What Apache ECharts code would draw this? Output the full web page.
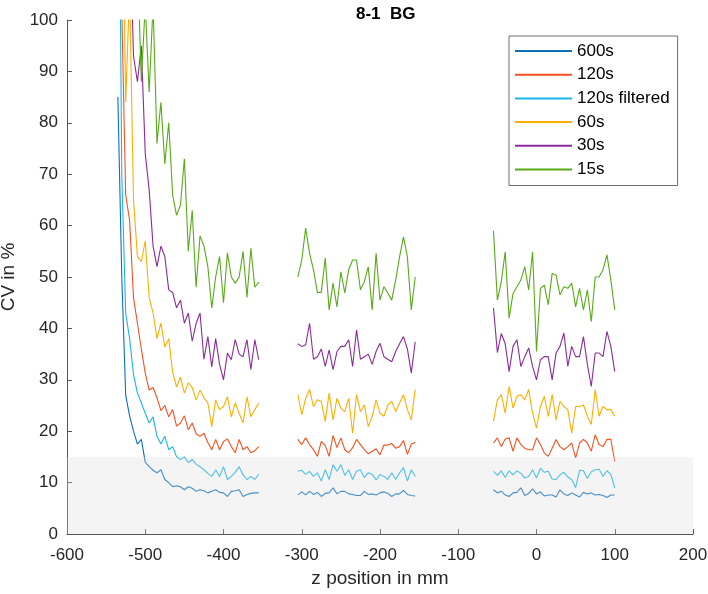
<!DOCTYPE html>
<html>
<head>
<meta charset="utf-8">
<script src="https://cdn.jsdelivr.net/npm/echarts@6/dist/echarts.min.js"></script>
<style>html,body{margin:0;padding:0;background:#fff}#c{width:708px;height:594px}</style>
</head>
<body>
<div id="c"></div>
<script>
// x positions (mm) of the three measured segments
var xA = [-535,-530,-525,-520,-515,-510,-505,-500,-495,-490,-485,-480,-475,-470,-465,-460,-455,-450,-445,-440,-435,-430,-425,-420,-415,-410,-405,-400,-395,-390,-385,-380,-375,-370,-365,-360,-355];
var xB = [-305,-300,-295,-290,-285,-280,-275,-270,-265,-260,-255,-250,-245,-240,-235,-230,-225,-220,-215,-210,-205,-200,-195,-190,-185,-180,-175,-170,-165,-160,-155];
var xC = [-55,-50,-45,-40,-35,-30,-25,-20,-15,-10,-5,0,5,10,15,20,25,30,35,40,45,50,55,60,65,70,75,80,85,90,95,100];

var seriesNames = ['600s','120s','120s filtered','60s','30s','15s'];
var seriesColors = ['#0b6fbd','#f5511e','#1ab4ee','#ffae00','#8b2a9b','#58aa18'];

// CV values (%)
var s600A = [85,50,27,23,20,17.5,18.4,14,13.1,12.4,11.9,12.5,10.6,10,9.2,9.4,9.2,8.6,9.2,8.9,8.3,8.6,8.4,8,8.3,8.6,8.1,8,7.3,8.3,8.4,8.6,7.3,7.7,7.9,8,8];
var s600B = [7.6,8.2,7.6,8.3,7.7,8.1,7.3,7.9,8,9,7.8,8.3,8.3,7.8,7.7,7.5,7.5,8.3,7.7,7.8,7.6,8,8.2,7.9,7.3,7.8,7.8,8.5,7.7,7.5,7.4];
var s600C = [8.6,8,8.3,7.6,7.3,8,8.1,9,7.5,7.9,8.8,7.8,8.2,7.4,7.6,7.6,7.2,8.6,7.8,7.5,8,7.6,7.2,8.1,7.8,8,7.6,7.7,7.5,7.1,7.6,7.6];

var s120A = [180,102,66,61,46,41,36,31.3,28,28.5,26.5,24,25,22.8,24.2,21,21.6,23,20.3,21.6,19.5,19,19.6,17.8,16.4,18.4,16.4,18,18.5,17,15.8,18.4,16.4,17,15.8,16.2,17];
var s120B = [18.4,17.4,18.7,17.4,16.4,15.1,18,17.2,15.1,19.2,16.8,18.7,16.4,15.8,16.8,18.4,17.4,16.4,15.6,16.1,16.6,15.4,17.3,17.3,17.6,16.7,17,18.2,15.5,17.5,17.8];
var s120C = [17.7,18.7,17,18.5,18.7,16.1,18.7,17.4,16.7,16.4,16.4,18.7,17.4,15.8,15.1,16.7,18.4,17,16.4,17,17.7,14.8,17.7,18.4,17.7,16.1,19.3,17.4,17,18.4,18.4,14.1];

var s120fA = [160,70,43,38,31,27.4,25.5,23.5,21.6,22.8,19,17.5,19,16.4,17,15,14.5,15,13.9,14.5,13.6,13.1,12.5,11.8,11.2,12.5,11.2,13.1,10.6,11.2,12,13.1,11.5,10.6,11.2,10.6,11.6];
var s120fB = [12.2,12.4,11.6,12.2,11.2,11.9,10.3,12.5,10.6,13.5,12.2,13.5,11.4,12.5,10.6,12.2,12.5,11,11.9,11.6,10.5,11.6,11.2,10.6,11.9,10.6,11.9,12.9,10.3,12.5,11.2];
var s120fC = [12.2,11.4,12.3,11,12.3,11.5,12.3,11.8,10.9,11.2,12.5,10.9,12.8,12,12.2,10.7,10.6,11.5,12,11.1,10.6,9,12.4,12.3,10.8,12.1,12.5,12.6,11.2,12.3,11.6,9];

var s60A = [200,140,84,106,65,54,53,57,46,43,38,41,36.4,38,31.5,28.6,30.5,27.4,29.4,28.5,26.1,28,26.5,25.5,20.9,26.1,24.2,24.8,26.7,22.8,25.5,23.5,21.6,26.7,22.8,24.2,25.5];
var s60B = [27.1,23.2,26.4,28.1,24.8,26.1,25.8,21.9,27.4,22.2,26.4,24.5,23.8,26.4,19.6,27.1,23.8,25.1,20.9,22.9,26.1,23.5,22.9,25.1,25.8,23.8,25.5,27.1,24.2,22.2,28.1];
var s60C = [21.9,26.1,27.1,23.5,28.7,24.5,26.8,27.1,26.1,28.1,23.5,20.6,24.8,26.8,22.9,27.1,22.2,25.8,24.8,24.2,19.6,24.8,24.8,25.1,22.9,21.3,28.1,22.9,24.8,24.2,24.2,22.9];

var s30A = [230,190,150,120,93,88,95,74,67,56,52,56,54,47.5,47,44,45.5,41,43,37.5,41,43,34,38.4,32.5,38,33,30,35.2,33.9,37.8,35,34.5,37.8,32,37.8,33.9];
var s30B = [37,36.5,36.8,41,34,34.5,36,32.6,35.8,32,35.5,36.5,36.5,37.8,32.6,39.7,34,34.5,35,33,35.5,37.1,34.5,34,33.5,35.5,37,38.4,36,31.3,37.4];
var s30C = [44,35.3,39,37,31.6,36.5,37.8,32.6,34.5,36.2,32.6,30,33.9,34.5,34.5,30,35.2,36.5,39.1,32.6,36.5,34.5,34.5,38.4,33,28.7,35.2,35.2,34.5,39.4,36.5,31.6];

var s15A = [250,220,190,160,130,112,88,103,86,103,76,84,72,80,66,62,64,73,55,63,48,58,56,52,44,50,54,45,54.7,50,48.8,50,55,46,55.6,48,49];
var s15B = [50,53.3,59.5,54.6,51.4,47,47,53.7,43.6,48.8,44.2,51,46.9,51.4,53.3,53.3,47.5,49.1,52,43.6,54.6,45.5,48.1,46.9,45.5,49.4,53.9,57.8,53.9,43.6,50];
var s15C = [59,45.5,49.1,54.9,42,46.8,48.1,49.4,52,47.5,54.9,35.5,47.8,48.4,44.6,50.7,50.4,46.5,48.1,47.8,48.8,44.2,47.8,43.6,47.5,41.3,50,50,51.4,54.3,49.4,43.6];

// shaded band (CV below 15 %)
var bandX = [-600, 200];
var bandY = [15, 15];

var xTicks = {min: -600, max: 200, interval: 100};
var yTicks = {min: 0, max: 100, interval: 10};

function build(a, b, c) {
  var out = [];
  var segs = [[xA, a], [xB, b], [xC, c]];
  segs.forEach(function (s, k) {
    if (k > 0) {
      var prev = segs[k - 1][0];
      out.push([(prev[prev.length - 1] + s[0][0]) / 2, null]);
    }
    for (var i = 0; i < s[0].length; i++) out.push([s[0][i], s[1][i]]);
  });
  return out;
}

var allData = [
  build(s600A, s600B, s600C),
  build(s120A, s120B, s120C),
  build(s120fA, s120fB, s120fC),
  build(s60A, s60B, s60C),
  build(s30A, s30B, s30C),
  build(s15A, s15B, s15C)
];

var FONT = '"Liberation Sans", Arial, Helvetica, sans-serif';
var series = allData.map(function (d, i) {
  return {
    name: seriesNames[i], type: 'line', data: d, symbol: 'none', showSymbol: false,
    connectNulls: false, clip: true, z: 2,
    lineStyle: {width: 1.1, color: seriesColors[i]}, itemStyle: {color: seriesColors[i]},
    emphasis: {disabled: true}, silent: true
  };
});
series.push({
  name: 'band', type: 'line', data: bandX.map(function (x, i) { return [x, bandY[i]]; }),
  symbol: 'none', z: 5, silent: true, lineStyle: {width: 0, opacity: 0},
  areaStyle: {color: 'rgba(219,219,219,0.42)', origin: 'start'}
});

var chart = echarts.init(document.getElementById('c'), null, {renderer: 'canvas'});
chart.setOption({
  animation: false,
  backgroundColor: '#ffffff',
  title: {
    text: '8-1  BG', left: 351, top: 1,
    textStyle: {fontFamily: FONT, fontWeight: 'bold', fontSize: 17, color: '#000'}
  },
  grid: {left: 67, right: 15, top: 20, bottom: 60, containLabel: false, outerBoundsMode: 'none'},
  legend: {
    data: seriesNames, orient: 'vertical', left: 509, top: 36,
    padding: [5, 8, 6, 6], itemGap: 3.7, itemWidth: 57, itemHeight: 2, icon: 'rect',
    backgroundColor: '#fff', borderColor: '#6e6e6e', borderWidth: 1,
    textStyle: {fontFamily: FONT, fontSize: 17, color: '#000', lineHeight: 20},
    selectedMode: false
  },
  xAxis: {
    type: 'value', min: xTicks.min, max: xTicks.max, interval: xTicks.interval,
    name: 'z position in mm', nameLocation: 'middle', nameGap: 35,
    nameTextStyle: {fontFamily: FONT, fontSize: 19, color: '#262626'},
    axisLine: {show: true, onZero: false, lineStyle: {color: '#555', width: 1}},
    axisTick: {show: true, inside: true, length: 5, lineStyle: {color: '#555'}},
    axisLabel: {fontFamily: FONT, fontSize: 17, color: '#262626', margin: 13},
    splitLine: {show: false}
  },
  yAxis: {
    type: 'value', min: yTicks.min, max: yTicks.max, interval: yTicks.interval,
    name: 'CV in %', nameLocation: 'middle', nameGap: 43,
    nameTextStyle: {fontFamily: FONT, fontSize: 19, color: '#262626'},
    axisLine: {show: true, onZero: false, lineStyle: {color: '#555', width: 1}},
    axisTick: {show: true, inside: true, length: 5, lineStyle: {color: '#555'}},
    axisLabel: {fontFamily: FONT, fontSize: 17, color: '#262626', margin: 9},
    splitLine: {show: false}
  },
  series: series
});
</script>
</body>
</html>
